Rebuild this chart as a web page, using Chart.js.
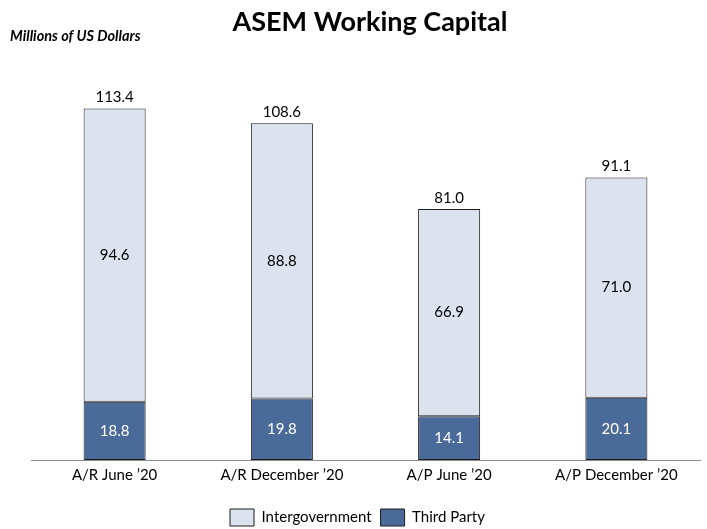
<!DOCTYPE html>
<html>
<head>
<meta charset="utf-8">
<script src="https://cdn.jsdelivr.net/npm/chart.js@4/dist/chart.umd.min.js"></script>
<style>
  html, body { margin: 0; padding: 0; background: #fff; }
  #wrap { width: 707px; height: 529px; }
</style>
</head>
<body>
<div id="wrap"><canvas id="chart" width="707" height="529"></canvas></div>
<script>
// chart data
const categories = ["A/R June \u201920", "A/R December \u201920", "A/P June \u201920", "A/P December \u201920"];
const intergovernment = [94.6, 88.8, 66.9, 71.0];
const thirdParty = [18.8, 19.8, 14.1, 20.1];

const FONT = "Lato, 'Open Sans', sans-serif";

// title + unit note drawn at fixed spots
const headerPlugin = {
    id: "header",
    afterDraw(chart) {
        const ctx = chart.ctx;
        ctx.save();
        ctx.fillStyle = "#000";
        ctx.textBaseline = "middle";
        ctx.textAlign = "center";
        ctx.font = "bold 27px " + FONT;
        ctx.fillText("ASEM Working Capital", 370, 22);
        ctx.textAlign = "left";
        ctx.font = "italic bold 14.5px " + FONT;
        ctx.fillText("Millions of US Dollars", 10, 36);
        ctx.restore();
    }
};

// segment values inside, totals on top
const valueLabels = {
    id: "valueLabels",
    afterDatasetsDraw(chart) {
        const ctx = chart.ctx;
        ctx.save();
        ctx.font = "15px " + FONT;
        ctx.textAlign = "center";
        ctx.textBaseline = "middle";
        chart.data.datasets.forEach((ds, di) => {
            const meta = chart.getDatasetMeta(di);
            meta.data.forEach((bar, i) => {
                ctx.fillStyle = di === 0 ? "#fff" : "#000";
                ctx.fillText(ds.data[i].toFixed(1), bar.x, (bar.y + bar.base) / 2);
            });
        });
        const top = chart.getDatasetMeta(1);
        top.data.forEach((bar, i) => {
            const total = intergovernment[i] + thirdParty[i];
            ctx.fillStyle = "#000";
            ctx.fillText(total.toFixed(1), bar.x, bar.y - 11);
        });
        ctx.restore();
    }
};

new Chart(document.getElementById("chart"), {
    type: "bar",
    data: {
        labels: categories,
        datasets: [
            {
                label: "Third Party",
                data: thirdParty,
                backgroundColor: "#4a6a99",
                borderColor: "#1c1c1c",
                borderWidth: 1,
                borderSkipped: false
            },
            {
                label: "Intergovernment",
                data: intergovernment,
                backgroundColor: "#dce3ee",
                borderColor: "#1c1c1c",
                borderWidth: 1,
                borderSkipped: false
            }
        ]
    },
    options: {
        responsive: false,
        animation: false,
        datasets: { bar: { categoryPercentage: 1, barPercentage: 0.371 } },
        layout: { padding: { top: 57, left: 15, right: 7, bottom: -7 } },
        scales: {
            x: {
                stacked: true,
                grid: { display: false, drawTicks: false },
                border: { display: true, color: "#8c8c8c", width: 1 },
                ticks: { color: "#000", font: { family: FONT, size: 15 }, padding: 6 },
                afterFit(scale) { scale.height = 40; }
            },
            y: {
                stacked: true,
                min: 0,
                max: 130,
                grid: { display: false, drawTicks: false },
                border: { display: false },
                ticks: { display: false },
                afterFit(scale) { scale.width = 16; }
            }
        },
        plugins: {
            legend: {
                position: "bottom",
                reverse: true,
                labels: {
                    color: "#000",
                    boxWidth: 24,
                    boxHeight: 17,
                    padding: 9,
                    font: { family: FONT, size: 15 }
                }
            },
            tooltip: { enabled: false }
        }
    },
    plugins: [headerPlugin, valueLabels]
});
</script>
</body>
</html>
